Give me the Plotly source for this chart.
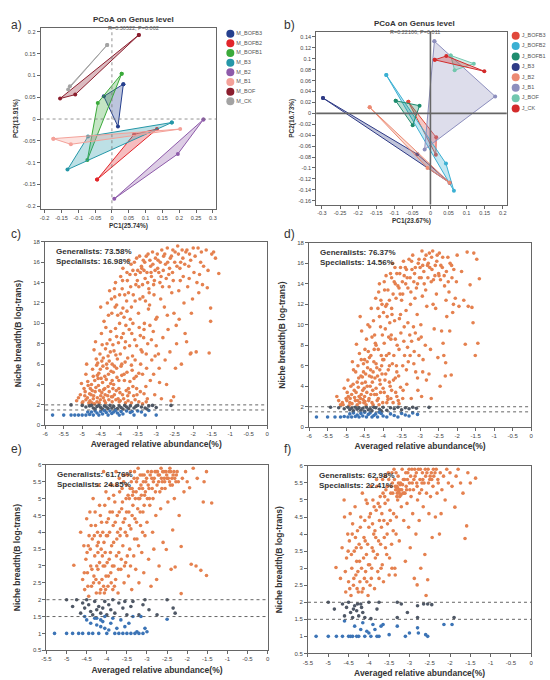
import plotly.graph_objects as go

FONT = "Liberation Sans, Arial, sans-serif"

# ---- PCoA panel a (M_ samples) ----
a_groups = ["M_BOFB3", "M_BOFB2", "M_BOFB1", "M_B3", "M_B2", "M_B1", "M_BOF", "M_CK"]
a_colors = ["#26408E", "#E2262B", "#3BAA3A", "#2597A8", "#8E5BAA", "#F4A199", "#8B1E2E", "#A3A3A3"]
a_pc1 = [[0.034, -0.024, 0.018], [-0.044, 0.066, 0.134], [0.029, -0.042, -0.073],
         [0.178, -0.132, -0.071], [0.272, 0.196, 0.007], [-0.174, -0.122, 0.203],
         [0.080, -0.154, -0.109], [-0.014, -0.125, -0.130]]
a_pc2 = [[0.080, 0.052, -0.017], [-0.139, -0.035, -0.023], [0.104, 0.037, -0.094],
         [-0.008, -0.116, -0.040], [-0.001, -0.080, -0.183], [-0.045, -0.058, -0.023],
         [0.193, 0.047, 0.056], [0.170, 0.075, 0.068]]
a_xticks = [-0.2, -0.15, -0.1, -0.05, 0, 0.05, 0.1, 0.15, 0.2, 0.25, 0.3]
a_yticks = [-0.2, -0.15, -0.1, -0.05, 0, 0.05, 0.1, 0.15, 0.2]

# ---- PCoA panel b (J_ samples) ----
b_groups = ["J_BOFB3", "J_BOFB2", "J_BOFB1", "J_B3", "J_B2", "J_B1", "J_BOF", "J_CK"]
b_colors = ["#E0483A", "#3BB0D3", "#1E8C6E", "#2F3B86", "#EC8A72", "#8D8FBE", "#72C7AE", "#D32B2B"]
b_pc1 = [[-0.061, 0.016, 0.015], [-0.122, 0.043, 0.065], [-0.096, -0.030, -0.049],
         [-0.297, -0.036, 0.053], [-0.168, -0.008, 0.053], [0.011, 0.179, -0.016],
         [0.056, 0.120, 0.067], [0.012, 0.044, 0.149]]
b_pc2 = [[0.021, -0.044, -0.076], [0.070, -0.092, -0.142], [0.023, 0.014, -0.022],
         [0.028, -0.075, -0.127], [0.011, -0.100, -0.127], [0.132, 0.031, -0.066],
         [0.106, 0.091, 0.079], [0.098, 0.105, 0.077]]
b_xticks = [-0.3, -0.25, -0.2, -0.15, -0.1, -0.05, 0, 0.05, 0.1, 0.15, 0.2]
b_yticks = [-0.16, -0.14, -0.12, -0.1, -0.08, -0.06, -0.04, -0.02, 0, 0.02, 0.04, 0.06, 0.08, 0.1, 0.12, 0.14]

# ---- niche breadth panels ----
cd_xticks = [-6, -5.5, -5, -4.5, -4, -3.5, -3, -2.5, -2, -1.5, -1, -0.5, 0]
cd_yticks = [0, 2, 4, 6, 8, 10, 12, 14, 16, 18]
ef_xticks = [-5.5, -5, -4.5, -4, -3.5, -3, -2.5, -2, -1.5, -1, -0.5, 0]
ef_yticks = [0.5, 1, 1.5, 2, 2.5, 3, 3.5, 4, 4.5, 5, 5.5, 6]
cutoffs = [2.0, 1.5]

c_labels = ["Generalists: 73.58%", "Specialists: 16.98%"]
d_labels = ["Generalists: 76.37%", "Specialists: 14.56%"]
e_labels = ["Generalists: 61.76%", "Specialists: 24.85%"]
f_labels = ["Generalists: 62.98%", "Specialists: 22.41%"]

c_gen = [
    (-5.15, 2.4), (-5.05, 3.0), (-5.0, 2.2), (-5.1, 2.7), (-5.02, 4.1),
    (-4.95, 3.6), (-4.9, 2.5), (-4.85, 4.3), (-4.8, 3.1), (-4.9, 5.0), (-4.82, 2.2), (-4.88, 6.0), (-4.93, 2.9),
    (-4.75, 4.0), (-4.7, 2.6), (-4.72, 5.5), (-4.65, 3.3), (-4.68, 7.4), (-4.6, 2.3), (-4.62, 6.5), (-4.7, 4.8),
    (-4.64, 8.2), (-4.78, 3.6), (-4.74, 2.2), (-4.66, 4.4), (-4.61, 5.9),
    (-4.55, 5.1), (-4.5, 2.9), (-4.52, 7.0), (-4.45, 4.2), (-4.48, 9.0), (-4.42, 3.5), (-4.58, 6.1), (-4.5, 11.6),
    (-4.4, 2.4), (-4.46, 7.9), (-4.56, 3.9), (-4.44, 5.8), (-4.41, 10.2), (-4.54, 2.2), (-4.47, 3.2), (-4.43, 6.6),
    (-4.57, 4.6),
    (-4.35, 4.5), (-4.3, 6.8), (-4.38, 3.0), (-4.25, 8.4), (-4.32, 12.0), (-4.28, 2.5), (-4.22, 5.3), (-4.36, 9.6),
    (-4.24, 7.2), (-4.3, 3.8), (-4.2, 11.0), (-4.34, 6.0), (-4.26, 13.2), (-4.37, 2.2), (-4.23, 4.1), (-4.29, 5.0),
    (-4.33, 8.0), (-4.21, 2.8),
    (-4.15, 4.0), (-4.1, 9.5), (-4.18, 2.8), (-4.05, 6.5), (-4.12, 12.6), (-4.08, 3.4), (-4.02, 8.1), (-4.16, 5.2),
    (-4.1, 14.0), (-4.04, 10.8), (-4.14, 7.3), (-4.0, 2.3), (-4.06, 4.7), (-4.19, 6.0), (-4.03, 2.6), (-4.11, 11.6),
    (-4.17, 3.6), (-4.07, 5.6),
    (-3.95, 5.8), (-3.9, 11.5), (-3.98, 3.2), (-3.85, 7.6), (-3.92, 13.4), (-3.88, 2.6), (-3.82, 9.8), (-3.96, 14.6),
    (-3.86, 4.4), (-3.8, 12.2), (-3.94, 8.6), (-3.84, 6.2), (-3.9, 15.4), (-3.99, 10.0), (-3.81, 3.4), (-3.93, 4.9),
    (-3.87, 10.6),
    (-3.75, 3.6), (-3.7, 10.4), (-3.78, 14.2), (-3.65, 5.4), (-3.72, 7.8), (-3.68, 15.8), (-3.62, 12.8), (-3.76, 2.4),
    (-3.66, 9.0), (-3.6, 4.6), (-3.74, 16.2), (-3.64, 6.8), (-3.79, 11.2), (-3.69, 13.6), (-3.61, 2.9), (-3.71, 4.3),
    (-3.55, 13.8), (-3.5, 15.2), (-3.58, 8.4), (-3.45, 16.6), (-3.52, 3.0), (-3.48, 11.0), (-3.42, 6.0), (-3.56, 14.8),
    (-3.46, 9.6), (-3.4, 15.6), (-3.54, 4.8), (-3.44, 12.4), (-3.59, 16.0), (-3.41, 7.4), (-3.51, 14.2),
    (-3.35, 16.2), (-3.3, 14.4), (-3.38, 7.2), (-3.25, 15.0), (-3.32, 10.0), (-3.28, 3.8), (-3.22, 16.8), (-3.36, 12.6),
    (-3.26, 5.6), (-3.2, 13.4), (-3.34, 8.6), (-3.24, 2.6), (-3.39, 15.4), (-3.21, 11.4), (-3.31, 16.0),
    (-3.15, 15.6), (-3.1, 17.0), (-3.18, 11.8), (-3.05, 14.2), (-3.12, 6.4), (-3.08, 9.2), (-3.02, 16.4), (-3.16, 4.4),
    (-3.06, 12.8), (-3.0, 7.8), (-3.14, 15.0), (-3.04, 3.0), (-3.19, 13.0), (-3.01, 10.4),
    (-2.95, 16.2), (-2.9, 14.0), (-2.98, 10.6), (-2.85, 17.2), (-2.92, 5.6), (-2.88, 12.4), (-2.82, 8.6), (-2.96, 15.4),
    (-2.86, 2.6), (-2.8, 16.6), (-2.94, 7.0), (-2.83, 13.6), (-2.91, 4.2),
    (-2.75, 15.8), (-2.7, 17.4), (-2.78, 11.6), (-2.65, 13.6), (-2.72, 4.0), (-2.68, 9.4), (-2.62, 16.4), (-2.76, 6.4),
    (-2.66, 14.8), (-2.6, 2.4), (-2.7, 10.8), (-2.63, 7.2),
    (-2.55, 17.2), (-2.5, 16.0), (-2.58, 13.0), (-2.45, 8.0), (-2.52, 11.0), (-2.48, 5.6), (-2.42, 17.6), (-2.56, 15.0),
    (-2.46, 9.8), (-2.4, 16.8), (-2.53, 2.8),
    (-2.35, 14.2), (-2.3, 17.2), (-2.38, 10.4), (-2.25, 12.0), (-2.32, 6.0), (-2.28, 16.4), (-2.22, 9.0), (-2.36, 15.4),
    (-2.2, 17.0),
    (-2.15, 13.6), (-2.1, 16.8), (-2.18, 8.2), (-2.05, 11.0), (-2.12, 15.6), (-2.08, 7.0), (-2.0, 17.4), (-2.02, 12.4),
    (-1.95, 16.6), (-1.9, 14.0), (-1.85, 13.0), (-1.8, 16.0), (-1.75, 13.8), (-1.92, 7.2), (-1.78, 17.0), (-1.72, 15.6),
    (-2.06, 7.1), (-1.65, 17.2), (-1.6, 15.2), (-1.53, 10.2), (-1.5, 16.8), (-1.53, 11.5), (-1.57, 7.1), (-1.4, 16.4),
    (-1.62, 13.5), (-1.31, 14.9), (-1.45, 17.0),
    (-4.98, 2.3), (-4.92, 3.3), (-4.86, 2.7), (-4.84, 3.9), (-4.79, 2.4), (-4.76, 3.0), (-4.73, 3.4), (-4.69, 2.9),
    (-4.67, 2.1), (-4.63, 3.7), (-4.59, 2.7), (-4.53, 3.4), (-4.51, 2.5), (-4.49, 4.6), (-4.43, 2.7), (-4.39, 3.6),
    (-4.31, 2.9), (-4.27, 3.3), (-4.19, 2.3), (-4.13, 3.0), (-4.09, 2.5), (-4.01, 3.6), (-3.97, 2.4), (-3.91, 3.0),
    (-3.83, 2.2), (-3.77, 2.9), (-3.73, 3.2), (-3.67, 2.2), (-3.63, 3.8), (-3.57, 2.5), (-3.53, 3.6), (-3.47, 2.3),
    (-3.43, 3.3), (-3.37, 2.1), (-3.33, 3.1), (-3.27, 2.3),
    (-4.59, 4.9), (-4.51, 5.5), (-4.47, 6.3), (-4.39, 4.8), (-4.37, 7.5), (-4.33, 5.6), (-4.27, 6.3), (-4.23, 9.2),
    (-4.19, 4.4), (-4.17, 7.9), (-4.13, 5.8), (-4.09, 6.9), (-4.07, 8.7), (-4.01, 4.4), (-3.97, 7.0), (-3.93, 6.0),
    (-3.89, 9.0), (-3.87, 5.0), (-3.83, 8.2), (-3.79, 5.2), (-3.77, 6.6), (-3.73, 9.4), (-3.67, 5.9), (-3.63, 10.0),
    (-3.57, 6.4), (-3.53, 7.8), (-3.47, 5.1), (-3.43, 8.8), (-3.37, 5.0), (-3.33, 9.4), (-3.27, 7.0), (-3.23, 8.0),
    (-3.17, 9.8), (-3.13, 8.4), (-3.07, 5.0), (-3.03, 6.8),
    (-4.29, 10.8), (-4.21, 12.4), (-4.13, 13.4), (-4.07, 11.8), (-3.99, 12.8), (-3.95, 11.0), (-3.91, 14.2),
    (-3.85, 12.8), (-3.79, 15.0), (-3.75, 13.0), (-3.71, 14.8), (-3.67, 11.6), (-3.63, 15.2), (-3.57, 12.2),
    (-3.53, 16.4), (-3.47, 13.6), (-3.43, 15.0), (-3.37, 13.8), (-3.33, 15.2), (-3.29, 12.2), (-3.27, 16.6),
    (-3.23, 14.0), (-3.17, 16.2), (-3.13, 14.6), (-3.09, 15.8), (-3.07, 13.8), (-3.03, 15.2), (-2.97, 16.8),
    (-2.93, 15.0), (-2.89, 16.0), (-2.87, 14.6), (-2.81, 15.2), (-2.77, 16.8), (-2.73, 14.4), (-2.69, 16.0),
    (-2.64, 15.4), (-2.59, 16.6), (-2.54, 14.2), (-2.49, 17.0), (-2.44, 15.6), (-2.39, 13.2), (-2.34, 16.0),
    (-2.27, 14.6), (-2.23, 15.8), (-2.17, 17.2), (-2.11, 14.4), (-2.07, 16.2), (-1.98, 15.0), (-1.87, 17.4),
    (-1.83, 14.8),
]
c_mid = [
    (-5.3, 2.0), (-5.0, 1.95), (-4.9, 1.8), (-4.8, 1.9), (-4.7, 1.7), (-4.6, 1.85), (-4.55, 1.95), (-4.5, 1.75),
    (-4.45, 1.6), (-4.4, 1.9), (-4.35, 1.8), (-4.3, 1.65), (-4.25, 1.95), (-4.2, 1.7), (-4.15, 1.85), (-4.1, 1.55),
    (-4.0, 1.9), (-3.95, 1.75), (-3.9, 1.6), (-3.85, 1.95), (-3.8, 1.8), (-3.7, 1.9), (-3.6, 1.7), (-3.5, 1.95),
    (-3.4, 1.8), (-3.3, 1.7), (-3.2, 1.9), (-3.1, 1.95), (-3.0, 1.75), (-2.6, 1.95), (-4.65, 1.6), (-4.05, 1.65),
    (-3.55, 1.85), (-3.25, 1.6), (-4.75, 1.95), (-3.75, 1.65),
]
c_spec = [
    (-5.8, 1.0), (-5.5, 1.0), (-5.3, 1.0), (-5.2, 1.0), (-5.1, 1.0), (-5.0, 1.0), (-4.9, 1.0), (-4.8, 1.05),
    (-4.75, 1.3), (-4.7, 1.0), (-4.65, 1.4), (-4.6, 1.2), (-4.55, 1.0), (-4.5, 1.35), (-4.45, 1.1), (-4.4, 1.45),
    (-4.35, 1.25), (-4.3, 1.0), (-4.25, 1.4), (-4.2, 1.15), (-4.15, 1.3), (-4.1, 1.45), (-4.05, 1.2), (-4.0, 1.0),
    (-3.95, 1.35), (-3.9, 1.1), (-3.8, 1.4), (-3.7, 1.25), (-3.6, 1.0), (-3.5, 1.4), (-3.4, 1.3), (-3.3, 1.0),
    (-3.0, 1.0), (-3.2, 1.45), (-4.85, 1.3), (-3.65, 1.35),
]

d_gen = [
    (-5.25, 3.0), (-5.1, 2.4), (-5.05, 3.8), (-5.15, 2.2), (-5.0, 2.8),
    (-4.95, 4.6), (-4.9, 2.4), (-4.85, 3.2), (-4.8, 5.6), (-4.92, 2.1), (-4.87, 4.0), (-4.83, 6.4), (-4.97, 3.4),
    (-4.75, 2.6), (-4.7, 4.4), (-4.72, 8.1), (-4.65, 3.0), (-4.68, 6.0), (-4.6, 5.0), (-4.62, 10.8), (-4.7, 2.2),
    (-4.64, 7.2), (-4.78, 3.6), (-4.66, 4.8), (-4.61, 2.8), (-4.74, 5.4),
    (-4.55, 3.6), (-4.5, 6.6), (-4.52, 2.4), (-4.45, 8.6), (-4.48, 4.4), (-4.42, 5.8), (-4.58, 9.4), (-4.5, 3.0),
    (-4.4, 7.4), (-4.46, 2.2), (-4.56, 4.9), (-4.44, 3.4), (-4.41, 10.0), (-4.53, 6.2), (-4.47, 5.2),
    (-4.35, 4.0), (-4.3, 8.8), (-4.38, 2.8), (-4.25, 6.4), (-4.32, 11.6), (-4.28, 3.6), (-4.22, 4.8), (-4.36, 9.8),
    (-4.24, 7.6), (-4.3, 2.4), (-4.2, 12.6), (-4.34, 5.6), (-4.26, 10.4), (-4.37, 6.8), (-4.23, 3.2), (-4.29, 4.4),
    (-4.21, 8.2),
    (-4.15, 5.0), (-4.1, 10.8), (-4.18, 3.2), (-4.05, 7.0), (-4.12, 13.2), (-4.08, 4.2), (-4.02, 9.0), (-4.16, 2.6),
    (-4.1, 14.0), (-4.04, 6.0), (-4.14, 11.6), (-4.0, 3.8), (-4.06, 12.4), (-4.19, 8.0), (-4.03, 5.2), (-4.11, 2.2),
    (-3.95, 4.6), (-3.9, 12.0), (-3.98, 6.6), (-3.85, 8.8), (-3.92, 14.8), (-3.88, 3.0), (-3.82, 10.2), (-3.96, 13.4),
    (-3.86, 5.6), (-3.8, 15.0), (-3.94, 9.6), (-3.84, 7.2), (-3.9, 2.4), (-3.99, 11.2), (-3.81, 4.0),
    (-3.75, 6.2), (-3.7, 14.2), (-3.78, 9.0), (-3.65, 12.6), (-3.72, 4.6), (-3.68, 15.6), (-3.62, 8.0), (-3.76, 11.0),
    (-3.66, 3.4), (-3.6, 13.8), (-3.74, 16.0), (-3.64, 6.0), (-3.79, 2.8), (-3.69, 10.4),
    (-3.55, 15.0), (-3.5, 12.4), (-3.58, 5.0), (-3.45, 16.2), (-3.52, 9.2), (-3.48, 14.2), (-3.42, 7.0), (-3.56, 10.6),
    (-3.46, 3.6), (-3.4, 15.6), (-3.54, 13.0), (-3.44, 8.4), (-3.59, 2.6),
    (-3.35, 14.6), (-3.3, 16.4), (-3.38, 11.4), (-3.25, 13.2), (-3.32, 6.4), (-3.28, 9.0), (-3.22, 15.4), (-3.36, 4.2),
    (-3.26, 12.0), (-3.2, 16.8), (-3.34, 7.8), (-3.24, 2.8), (-3.39, 14.0),
    (-3.15, 15.0), (-3.1, 13.6), (-3.18, 9.8), (-3.05, 16.0), (-3.12, 5.4), (-3.08, 11.0), (-3.02, 14.6), (-3.16, 7.4),
    (-3.06, 3.6), (-3.0, 15.6), (-3.14, 12.6), (-3.04, 8.6),
    (-2.95, 17.2), (-2.9, 15.2), (-2.98, 10.0), (-2.85, 13.4), (-2.92, 6.6), (-2.88, 16.4), (-2.82, 11.8), (-2.96, 3.0),
    (-2.86, 8.0), (-2.8, 15.8), (-2.94, 12.8), (-2.83, 4.6),
    (-2.75, 17.0), (-2.7, 14.2), (-2.78, 16.0), (-2.65, 12.0), (-2.72, 7.6), (-2.68, 15.4), (-2.62, 9.6), (-2.76, 5.2),
    (-2.66, 17.2), (-2.6, 14.8), (-2.7, 2.8),
    (-2.55, 16.2), (-2.5, 15.0), (-2.58, 11.6), (-2.45, 14.4), (-2.52, 6.8), (-2.48, 17.0), (-2.42, 9.4), (-2.56, 13.0),
    (-2.46, 4.0), (-2.4, 15.6),
    (-2.35, 14.8), (-2.3, 12.4), (-2.38, 8.2), (-2.25, 16.6), (-2.32, 5.0), (-2.28, 10.8), (-2.22, 13.2), (-2.36, 7.0),
    (-2.2, 9.4), (-2.31, 6.3),
    (-2.15, 15.8), (-2.1, 12.0), (-2.16, 5.1), (-2.05, 12.6), (-2.12, 11.2), (-2.0, 16.8), (-2.02, 14.2),
    (-1.95, 11.8), (-1.82, 12.4), (-1.88, 15.2), (-1.73, 17.1), (-1.78, 8.1), (-1.65, 13.9), (-1.6, 11.7),
    (-1.57, 10.2), (-1.51, 7.0), (-1.47, 16.4), (-1.44, 8.2), (-1.4, 14.5), (-1.55, 17.0), (-1.7, 11.8),
    (-5.2, 2.6), (-5.08, 2.2), (-4.98, 2.6), (-4.94, 3.0), (-4.89, 2.8), (-4.84, 2.3), (-4.81, 4.2), (-4.77, 2.9),
    (-4.73, 3.4), (-4.69, 2.6), (-4.67, 3.9), (-4.63, 2.4), (-4.59, 3.2), (-4.57, 4.3), (-4.54, 2.7), (-4.51, 3.8),
    (-4.49, 2.5), (-4.43, 4.0), (-4.39, 2.6), (-4.33, 3.2), (-4.31, 4.9), (-4.27, 2.2), (-4.19, 3.8), (-4.17, 5.8),
    (-4.13, 2.8), (-4.09, 4.6), (-4.07, 3.4), (-4.01, 2.4), (-3.97, 3.4), (-3.93, 5.2), (-3.87, 2.7), (-3.83, 4.4),
    (-3.77, 3.6), (-3.73, 2.4), (-3.67, 4.8), (-3.63, 3.0), (-3.57, 2.3), (-3.53, 3.9), (-3.47, 2.8),
    (-4.59, 6.6), (-4.53, 5.4), (-4.49, 7.6), (-4.43, 6.4), (-4.37, 5.0), (-4.33, 7.0), (-4.27, 5.4), (-4.23, 9.0),
    (-4.19, 6.2), (-4.13, 7.6), (-4.09, 5.6), (-4.07, 9.8), (-4.01, 6.6), (-3.97, 8.2), (-3.91, 7.0), (-3.89, 10.8),
    (-3.83, 6.0), (-3.79, 8.6), (-3.77, 11.6), (-3.71, 7.0), (-3.67, 8.6), (-3.63, 5.4), (-3.57, 7.6), (-3.53, 11.0),
    (-3.47, 6.0), (-3.43, 9.8), (-3.37, 5.6), (-3.33, 10.2), (-3.27, 7.0), (-3.23, 8.4), (-3.17, 6.2), (-3.13, 9.2),
    (-3.07, 4.8), (-3.03, 7.0), (-2.97, 8.8), (-2.93, 5.4),
    (-4.03, 12.0), (-3.97, 14.2), (-3.93, 11.8), (-3.87, 13.4), (-3.83, 12.4), (-3.77, 14.6), (-3.73, 13.0),
    (-3.67, 14.0), (-3.63, 15.0), (-3.57, 13.6), (-3.53, 15.6), (-3.47, 13.0), (-3.43, 14.8), (-3.37, 15.4),
    (-3.33, 13.6), (-3.27, 14.6), (-3.23, 16.2), (-3.17, 14.2), (-3.13, 15.6), (-3.07, 14.0), (-3.03, 16.4),
    (-2.97, 14.6), (-2.93, 15.8), (-2.89, 14.0), (-2.84, 16.8), (-2.79, 14.6), (-2.74, 15.6), (-2.69, 16.6),
    (-2.64, 14.4), (-2.59, 15.8), (-2.54, 16.8), (-2.49, 14.8), (-2.44, 15.8), (-2.39, 16.6), (-2.34, 13.8),
    (-2.29, 15.2), (-2.24, 14.2), (-2.19, 16.0), (-2.14, 14.6), (-2.09, 15.4),
]
d_mid = [
    (-5.42, 1.95), (-5.2, 1.9), (-5.05, 1.8), (-4.95, 1.95), (-4.9, 1.7), (-4.85, 1.85), (-4.8, 1.6), (-4.75, 1.95),
    (-4.7, 1.75), (-4.65, 1.9), (-4.6, 1.65), (-4.55, 1.85), (-4.5, 1.55), (-4.45, 1.95), (-4.4, 1.7), (-4.35, 1.8),
    (-4.3, 1.6), (-4.2, 1.9), (-4.1, 1.75), (-4.0, 1.95), (-3.9, 1.65), (-3.8, 1.9), (-3.7, 1.8), (-3.6, 1.95),
    (-3.5, 1.7), (-3.4, 1.9), (-3.3, 1.8), (-3.2, 1.95), (-3.1, 1.85), (-2.76, 1.94), (-4.25, 1.95), (-4.05, 1.6),
]
d_spec = [
    (-5.8, 1.0), (-5.5, 1.0), (-5.3, 1.0), (-5.15, 1.0), (-5.05, 1.05), (-4.95, 1.0), (-4.9, 1.3), (-4.85, 1.0),
    (-4.8, 1.4), (-4.75, 1.05), (-4.7, 1.2), (-4.65, 1.0), (-4.6, 1.35), (-4.55, 1.1), (-4.5, 1.45), (-4.45, 1.0),
    (-4.4, 1.25), (-4.35, 1.4), (-4.3, 1.0), (-4.25, 1.15), (-4.2, 1.3), (-4.15, 1.0), (-4.1, 1.45), (-4.0, 1.1),
    (-3.9, 1.0), (-3.8, 1.3), (-3.6, 1.0), (-3.5, 1.35), (-3.4, 1.2), (-3.3, 1.1), (-3.2, 1.4), (-3.07, 1.25),
    (-4.05, 1.35), (-3.7, 1.15),
]

e_gen = [
    (-4.82, 3.02), (-4.65, 4.0), (-4.57, 3.6), (-4.6, 2.6), (-4.55, 2.3), (-4.52, 3.2), (-4.5, 4.4), (-4.48, 2.8),
    (-4.46, 3.6), (-4.45, 2.1), (-4.42, 4.6), (-4.4, 3.0), (-4.38, 2.4), (-4.36, 3.8), (-4.34, 5.0), (-4.32, 2.7),
    (-4.3, 3.3), (-4.28, 4.2), (-4.26, 2.2), (-4.24, 3.6), (-4.23, 4.0), (-4.22, 2.9), (-4.2, 5.4), (-4.19, 2.5),
    (-4.18, 3.1), (-4.16, 4.5), (-4.15, 2.3), (-4.14, 3.5), (-4.12, 2.6), (-4.1, 4.0), (-4.09, 3.0), (-4.08, 5.8),
    (-4.06, 2.2), (-4.05, 4.8), (-4.04, 3.4), (-4.02, 2.7), (-4.0, 4.3), (-3.98, 3.9), (-3.97, 2.4), (-3.95, 5.0),
    (-3.94, 3.2), (-3.92, 4.6), (-3.9, 2.8), (-3.88, 3.6), (-3.87, 5.4), (-3.85, 2.3), (-3.84, 4.2), (-3.82, 3.0),
    (-3.8, 4.9), (-3.78, 2.6), (-3.77, 5.8), (-3.75, 3.8), (-3.74, 4.5), (-3.72, 2.2), (-3.7, 3.4), (-3.68, 5.2),
    (-3.66, 4.1), (-3.65, 2.9), (-3.63, 4.7), (-3.6, 3.6), (-3.58, 5.5), (-3.57, 2.5), (-3.55, 4.4), (-3.53, 3.1),
    (-3.52, 5.0), (-3.5, 3.9), (-3.48, 5.7), (-3.46, 2.7), (-3.45, 4.6), (-3.43, 3.5), (-3.42, 5.3), (-3.4, 4.1),
    (-3.38, 2.3), (-3.36, 5.1), (-3.35, 4.8), (-3.33, 3.3), (-3.32, 5.6), (-3.3, 4.4), (-3.28, 2.9), (-3.27, 5.2),
    (-3.25, 3.8), (-3.23, 4.7), (-3.22, 5.9), (-3.2, 2.5), (-3.18, 5.0), (-3.16, 4.2), (-3.15, 5.4), (-3.13, 3.4),
    (-3.12, 5.7), (-3.1, 4.6), (-3.08, 2.8), (-3.06, 5.1), (-3.05, 3.9), (-3.03, 5.5), (-3.0, 4.3), (-2.98, 5.8),
    (-2.96, 3.2), (-2.95, 5.3), (-2.93, 4.8), (-2.9, 2.4), (-2.88, 5.6), (-2.86, 4.0), (-2.85, 5.0), (-2.83, 3.5),
    (-2.8, 5.8), (-2.78, 4.5), (-2.76, 2.6), (-2.75, 5.4), (-2.72, 5.7), (-2.7, 3.0), (-2.68, 5.2), (-2.66, 4.7),
    (-2.65, 5.9), (-2.62, 5.5), (-2.6, 3.7), (-2.58, 5.8), (-2.55, 5.3), (-2.52, 3.49), (-2.5, 5.6), (-2.48, 4.9),
    (-2.45, 5.8), (-2.42, 5.4), (-2.4, 2.9), (-2.36, 4.07), (-2.35, 5.7), (-2.32, 5.0), (-2.3, 2.97), (-2.28, 5.5),
    (-2.25, 5.8), (-2.2, 4.5), (-2.15, 3.58), (-2.15, 2.18), (-2.12, 5.6), (-2.08, 5.2), (-2.04, 5.8), (-2.0, 5.5),
    (-1.94, 5.32), (-1.9, 3.05), (-1.85, 5.9), (-1.78, 3.0), (-1.75, 5.6), (-1.66, 2.87), (-1.6, 4.9), (-1.58, 5.5),
    (-1.52, 2.72), (-1.52, 5.8), (-1.39, 4.87),
    (-4.44, 3.9), (-4.37, 2.9), (-4.31, 3.9), (-4.27, 2.6), (-4.21, 3.7), (-4.13, 4.3), (-4.07, 3.7), (-4.03, 2.3),
    (-3.99, 3.1), (-3.93, 4.0), (-3.89, 2.5), (-3.83, 3.7), (-3.79, 4.3), (-3.71, 2.9), (-3.67, 3.9), (-3.61, 4.9),
    (-3.54, 4.0), (-3.47, 5.1), (-3.39, 5.5), (-3.34, 5.2), (-3.29, 5.0), (-3.24, 5.6), (-3.19, 5.3), (-3.14, 5.1),
    (-3.09, 5.5), (-3.04, 5.2), (-2.99, 5.0), (-2.92, 5.7), (-2.87, 5.3), (-2.82, 5.6), (-2.77, 5.8), (-2.71, 5.5),
    (-2.64, 5.6), (-2.57, 5.6), (-2.53, 5.8), (-2.47, 5.6), (-2.43, 5.9), (-2.38, 5.6), (-2.33, 5.8),
    (-4.56, 2.8), (-4.49, 3.4), (-4.47, 2.4), (-4.41, 3.5), (-4.39, 4.2), (-4.33, 2.5), (-4.29, 4.6), (-4.25, 3.0),
    (-4.22, 3.4), (-4.17, 2.2), (-4.16, 3.9), (-4.11, 3.3), (-4.08, 2.4), (-4.05, 3.0), (-4.01, 3.9), (-3.96, 2.7),
    (-3.96, 4.4), (-3.91, 3.4), (-3.86, 3.0), (-3.86, 4.6), (-3.81, 2.4), (-3.76, 3.3), (-3.73, 4.0), (-3.69, 4.6),
    (-3.64, 3.2), (-3.59, 4.3), (-3.56, 3.0), (-3.51, 4.6), (-3.49, 3.3), (-3.44, 4.2), (-3.41, 3.0), (-3.37, 4.5),
    (-3.31, 3.8), (-3.26, 4.3), (-3.21, 3.6), (-3.17, 4.6), (-3.11, 4.0), (-3.07, 4.8),
    (-4.18, 4.8), (-4.02, 5.2), (-3.91, 5.4), (-3.83, 5.1), (-3.76, 5.4), (-3.69, 5.6), (-3.62, 5.3), (-3.56, 5.7),
    (-3.51, 5.4), (-3.44, 5.0), (-3.41, 5.8), (-3.37, 5.3), (-3.31, 5.8), (-3.26, 5.5), (-3.21, 5.0), (-3.17, 5.7),
    (-3.11, 5.3), (-3.07, 5.7), (-3.01, 5.6), (-2.97, 5.4), (-2.94, 5.0), (-2.89, 5.8), (-2.84, 5.5), (-2.79, 5.2),
    (-2.74, 5.8), (-2.69, 5.7), (-2.63, 5.3), (-2.61, 5.8), (-2.56, 5.5), (-2.51, 5.7), (-2.44, 5.5), (-2.41, 5.8),
    (-2.37, 5.4), (-2.31, 5.6), (-2.27, 5.7), (-2.22, 5.5),
]
e_mid = [
    (-5.0, 2.0), (-4.85, 1.8), (-4.75, 2.0), (-4.65, 1.6), (-4.6, 1.9), (-4.55, 1.75), (-4.5, 2.0), (-4.45, 1.85),
    (-4.4, 1.65), (-4.35, 1.55), (-4.3, 1.95), (-4.25, 1.7), (-4.2, 1.8), (-4.15, 1.6), (-4.1, 1.75), (-4.05, 1.95),
    (-4.0, 1.55), (-3.95, 1.85), (-3.9, 1.7), (-3.85, 2.0), (-3.8, 1.6), (-3.7, 1.9), (-3.6, 1.75), (-3.55, 1.95),
    (-3.5, 1.55), (-3.4, 1.8), (-3.35, 1.95), (-3.1, 1.85), (-3.05, 2.0), (-2.95, 1.7), (-2.75, 1.55), (-2.5, 2.0),
    (-2.35, 1.75), (-2.3, 1.6), (-3.2, 1.55),
]
e_spec = [
    (-5.3, 1.0), (-5.0, 1.0), (-4.85, 1.0), (-4.7, 1.0), (-4.6, 1.0), (-4.55, 1.5), (-4.5, 1.4), (-4.45, 1.0),
    (-4.4, 1.3), (-4.35, 1.0), (-4.3, 1.45), (-4.25, 1.25), (-4.2, 1.0), (-4.15, 1.2), (-4.1, 1.35), (-4.05, 1.15),
    (-4.0, 1.0), (-3.95, 1.1), (-3.9, 1.3), (-3.85, 1.45), (-3.8, 1.0), (-3.75, 1.15), (-3.7, 1.0), (-3.65, 1.4),
    (-3.6, 1.0), (-3.55, 1.2), (-3.5, 1.0), (-3.45, 1.3), (-3.4, 1.0), (-3.35, 1.5), (-3.3, 1.0), (-3.25, 1.05),
    (-3.2, 1.0), (-3.1, 1.0), (-3.05, 1.15), (-3.0, 1.05), (-2.5, 1.42), (-3.15, 1.5), (-4.05, 1.5), (-4.15, 1.4),
    (-4.25, 1.45),
]

f_gen = [
    (-4.81, 3.02), (-4.61, 5.0), (-4.7, 2.7), (-4.66, 3.6), (-4.6, 4.5), (-4.57, 2.3), (-4.55, 3.3), (-4.52, 4.0),
    (-4.5, 2.6), (-4.48, 3.8), (-4.46, 4.6), (-4.44, 2.2), (-4.42, 3.0), (-4.4, 4.3), (-4.38, 2.5), (-4.36, 3.5),
    (-4.34, 4.8), (-4.32, 2.8), (-4.3, 3.2), (-4.28, 4.1), (-4.26, 2.3), (-4.24, 3.7), (-4.22, 2.6), (-4.2, 4.5),
    (-4.18, 3.0), (-4.16, 5.2), (-4.14, 2.4), (-4.12, 3.9), (-4.1, 4.4), (-4.08, 2.9), (-4.06, 3.4), (-4.04, 4.9),
    (-4.02, 2.2), (-4.0, 4.2), (-3.98, 3.1), (-3.96, 4.6), (-3.94, 2.7), (-3.92, 3.6), (-3.9, 5.0), (-3.88, 4.0),
    (-3.86, 2.4), (-3.84, 3.3), (-3.82, 4.7), (-3.8, 5.4), (-3.78, 2.9), (-3.76, 3.8), (-3.74, 4.4), (-3.72, 5.1),
    (-3.7, 3.0), (-3.68, 4.6), (-3.66, 5.6), (-3.64, 2.6), (-3.62, 3.9), (-3.6, 4.9), (-3.58, 5.3), (-3.56, 3.4),
    (-3.54, 4.3), (-3.52, 5.8), (-3.5, 2.8), (-3.48, 4.7), (-3.46, 5.2), (-3.44, 3.7), (-3.42, 5.5), (-3.4, 4.1),
    (-3.38, 5.9), (-3.36, 3.0), (-3.34, 5.3), (-3.32, 4.5), (-3.3, 5.2), (-3.29, 5.0), (-3.28, 5.7), (-3.26, 5.3),
    (-3.25, 3.8), (-3.24, 5.1), (-3.22, 5.5), (-3.2, 4.8), (-3.18, 5.9), (-3.16, 5.2), (-3.14, 4.4), (-3.12, 5.6),
    (-3.1, 3.2), (-3.08, 5.4), (-3.06, 4.9), (-3.04, 5.8), (-3.02, 4.2), (-3.0, 5.5), (-2.98, 3.6), (-2.96, 5.1),
    (-2.94, 5.9), (-2.92, 4.6), (-2.9, 5.3), (-2.88, 2.7), (-2.86, 5.7), (-2.84, 4.0), (-2.82, 5.5), (-2.81, 2.51),
    (-2.8, 5.0), (-2.78, 5.9), (-2.76, 4.4), (-2.74, 5.6), (-2.72, 3.0), (-2.7, 5.3), (-2.68, 5.8), (-2.66, 4.8),
    (-2.64, 5.5), (-2.62, 3.4), (-2.6, 5.7), (-2.59, 2.2), (-2.58, 5.2), (-2.55, 2.66), (-2.54, 5.9), (-2.52, 4.6),
    (-2.5, 5.6), (-2.48, 5.1), (-2.46, 5.8), (-2.44, 3.9), (-2.42, 5.4), (-2.4, 5.7), (-2.36, 4.5), (-2.34, 5.9),
    (-2.32, 5.2), (-2.3, 5.6), (-2.26, 4.0), (-2.24, 5.8), (-2.22, 4.6), (-2.2, 5.3), (-2.16, 5.7), (-2.12, 5.0),
    (-2.08, 5.9), (-2.04, 5.5), (-2.0, 5.8), (-1.95, 5.4), (-1.88, 4.79), (-1.85, 5.7), (-1.8, 5.9), (-1.74, 5.5),
    (-1.68, 5.2), (-1.63, 3.87), (-1.59, 4.24), (-1.56, 5.8), (-1.5, 5.5), (-1.37, 5.64),
    (-4.43, 3.4), (-4.33, 3.9), (-4.27, 2.9), (-4.19, 3.6), (-4.11, 2.7), (-4.03, 3.7), (-3.97, 2.5), (-3.91, 4.3),
    (-3.83, 3.9), (-3.77, 4.9), (-3.69, 4.2), (-3.61, 5.1), (-3.53, 5.0), (-3.45, 5.4), (-3.37, 5.6), (-3.31, 5.4),
    (-3.27, 5.25), (-3.23, 5.3), (-3.21, 5.15), (-3.17, 5.45), (-3.11, 5.2), (-3.05, 5.6), (-2.97, 5.7), (-2.89, 5.6),
    (-2.83, 5.8), (-2.75, 5.2), (-2.67, 5.6), (-2.57, 5.8), (-2.49, 5.7), (-2.41, 5.9),
    (-4.58, 2.9), (-4.51, 3.5), (-4.47, 2.4), (-4.41, 4.0), (-4.37, 2.7), (-4.31, 3.6), (-4.29, 2.4), (-4.23, 3.2),
    (-4.21, 4.2), (-4.17, 2.3), (-4.13, 3.3), (-4.09, 3.8), (-4.05, 2.6), (-4.01, 3.1), (-3.99, 4.5), (-3.93, 3.0),
    (-3.89, 3.5), (-3.85, 4.1), (-3.79, 3.4), (-3.75, 2.7), (-3.71, 3.7), (-3.67, 3.1), (-3.63, 4.4), (-3.59, 3.6),
    (-3.55, 4.0), (-3.49, 3.3), (-3.47, 4.4), (-3.43, 3.0), (-3.39, 4.6), (-3.35, 2.8), (-3.33, 4.0),
    (-4.07, 5.0), (-3.95, 5.4), (-3.87, 4.8), (-3.81, 5.6), (-3.73, 4.8), (-3.65, 5.2), (-3.59, 5.7), (-3.55, 5.4),
    (-3.51, 5.6), (-3.43, 5.8), (-3.41, 5.2), (-3.35, 5.4), (-3.33, 5.8), (-3.31, 5.1), (-3.29, 5.35), (-3.27, 5.5),
    (-3.25, 5.2), (-3.23, 5.45), (-3.19, 5.3), (-3.15, 5.6), (-3.13, 5.2), (-3.09, 5.8), (-3.07, 5.3), (-3.01, 5.9),
    (-2.99, 5.3), (-2.93, 5.5), (-2.87, 5.9), (-2.81, 5.4), (-2.73, 5.9), (-2.69, 5.5), (-2.61, 5.9), (-2.53, 5.5),
    (-2.45, 5.6), (-2.37, 5.8), (-2.29, 5.5),
]
f_mid = [
    (-5.0, 2.0), (-4.85, 1.8), (-4.65, 1.95), (-4.6, 1.6), (-4.55, 1.85), (-4.5, 2.0), (-4.45, 1.7), (-4.4, 1.55),
    (-4.35, 1.9), (-4.3, 1.75), (-4.25, 1.6), (-4.2, 1.95), (-4.15, 1.7), (-4.1, 1.55), (-4.0, 2.0), (-3.95, 1.52),
    (-3.8, 1.8), (-3.75, 2.0), (-3.3, 2.0), (-3.3, 1.55), (-3.2, 1.95), (-3.05, 1.7), (-2.8, 1.9), (-2.8, 1.55),
    (-2.55, 1.95), (-2.45, 1.93), (-2.65, 1.95), (-1.9, 1.55), (-4.38, 1.8), (-4.28, 1.95), (-4.18, 1.85),
]
f_spec = [
    (-5.3, 1.0), (-5.0, 1.0), (-4.8, 1.0), (-4.65, 1.0), (-4.6, 1.45), (-4.5, 1.0), (-4.45, 1.0), (-4.4, 1.0),
    (-4.35, 1.3), (-4.3, 1.0), (-4.25, 1.0), (-4.2, 1.2), (-4.15, 1.4), (-4.1, 1.0), (-4.05, 1.15), (-4.0, 1.1),
    (-3.95, 1.0), (-3.9, 1.35), (-3.85, 1.2), (-3.8, 1.0), (-3.75, 1.0), (-3.7, 1.3), (-3.65, 1.35), (-3.5, 1.05),
    (-3.3, 1.3), (-3.1, 1.0), (-3.0, 1.1), (-2.8, 1.25), (-2.78, 1.1), (-2.6, 1.05), (-2.55, 1.0), (-2.15, 1.35),
    (-1.95, 1.35),
]

GEN_COLOR = "#E5814F"
MID_COLOR = "#4F5866"
SPEC_COLOR = "#3C74B6"
TXT = "#333333"


def rgba(hexcol, a):
    h = hexcol.lstrip("#")
    return "rgba(%d,%d,%d,%.2f)" % (int(h[0:2], 16), int(h[2:4], 16), int(h[4:6], 16), a)


def fmt(v):
    return "%g" % v


def add_pcoa(fig, xs, ys, colors, n):
    for px, py, col in zip(xs, ys, colors):
        fig.add_trace(go.Scatter(
            x=px + [px[0]], y=py + [py[0]],
            mode="lines+markers", fill="toself", fillcolor=rgba(col, 0.3),
            line=dict(color=col, width=1), marker=dict(size=4, color=col),
            showlegend=False, hoverinfo="skip",
            xaxis="x" + n, yaxis="y" + n))


def add_legend(fig, names, colors, n):
    fig.add_trace(go.Scatter(
        x=[0.15] * len(names), y=list(range(len(names))),
        mode="markers+text", text=names, textposition="middle right",
        textfont=dict(size=5.5, color="#555555", family=FONT),
        marker=dict(size=8, color=colors), showlegend=False,
        xaxis="x" + n, yaxis="y" + n))


def add_niche(fig, gen, mid, spec, n):
    for pts, col in [(gen, GEN_COLOR), (mid, MID_COLOR), (spec, SPEC_COLOR)]:
        fig.add_trace(go.Scatter(
            x=[p[0] for p in pts], y=[p[1] for p in pts], mode="markers",
            marker=dict(size=3.6, color=col), showlegend=False,
            xaxis="x" + n, yaxis="y" + n))


def axis(domain, rng, ticks, title, tsize, anchor, ticksize=6, standoff=3, linecol="#666666"):
    return dict(domain=domain, range=rng, tickvals=ticks, ticktext=[fmt(t) for t in ticks],
                showgrid=False, zeroline=False, showline=True, mirror=True,
                linecolor=linecol, linewidth=1, ticks="outside", ticklen=3,
                tickcolor=linecol, tickfont=dict(size=ticksize, color="#444444", family=FONT),
                title=dict(text=title, font=dict(size=tsize, color=TXT, family=FONT, weight="bold"),
                           standoff=standoff),
                anchor=anchor)


def main():
    fig = go.Figure()

    add_pcoa(fig, a_pc1, a_pc2, a_colors, "")
    add_pcoa(fig, b_pc1, b_pc2, b_colors, "2")
    add_niche(fig, c_gen, c_mid, c_spec, "3")
    add_niche(fig, d_gen, d_mid, d_spec, "4")
    add_niche(fig, e_gen, e_mid, e_spec, "5")
    add_niche(fig, f_gen, f_mid, f_spec, "6")
    add_legend(fig, a_groups, a_colors, "7")
    add_legend(fig, b_groups, b_colors, "8")

    xt = "Averaged relative abundance(%)"
    yt = "Niche breadth(B log-trans)"
    layout = dict(
        width=550, height=680, margin=dict(l=0, r=0, t=0, b=0),
        paper_bgcolor="white", plot_bgcolor="white",
        font=dict(family=FONT, color=TXT),
        xaxis=axis([0.0655, 0.389], [-0.212, 0.31], a_xticks, "PC1(25.74%)", 6.5, "y", 5.5),
        yaxis=axis([0.694, 0.963], [-0.207, 0.209], a_yticks, "PC2(13.91%)", 6.5, "x", 5.5),
        xaxis2=axis([0.573, 0.924], [-0.316, 0.211], b_xticks, "PC1(23.67%)", 6.5, "y2", 5.5),
        yaxis2=axis([0.701, 0.957], [-0.167, 0.149], b_yticks, "PC2(16.73%)", 6.5, "x2", 5.5),
        xaxis3=axis([0.074, 0.483], [-6, 0], cd_xticks, xt, 8.5, "y3", 6, 4),
        yaxis3=axis([0.3735, 0.6456], [0, 18], cd_yticks, yt, 8.5, "x3", 6, 10),
        xaxis4=axis([0.560, 0.969], [-6, 0], cd_xticks, xt, 8.5, "y4", 6, 4),
        yaxis4=axis([0.3706, 0.6441], [0, 18], cd_yticks, yt, 8.5, "x4", 6, 10),
        xaxis5=axis([0.0764, 0.4836], [-5.5, 0], ef_xticks, xt, 8.5, "y5", 6, 5),
        yaxis5=axis([0.0397, 0.3147], [0.5, 6], ef_yticks, yt, 8.5, "x5", 6, 10),
        xaxis6=axis([0.558, 0.969], [-5.5, 0], ef_xticks, xt, 8.5, "y6", 6, 5),
        yaxis6=axis([0.035, 0.3132], [0.5, 6], ef_yticks, yt, 8.5, "x6", 6, 10),
        xaxis7=dict(domain=[0.40, 0.50], range=[0, 1], visible=False, anchor="y7"),
        yaxis7=dict(domain=[0.847, 0.9616], range=[7.5, -0.5], visible=False, anchor="x7"),
        xaxis8=dict(domain=[0.93, 1.0], range=[0, 1], visible=False, anchor="y8"),
        yaxis8=dict(domain=[0.8357, 0.9592], range=[7.5, -0.5], visible=False, anchor="x8"),
    )
    fig.update_layout(**layout)

    # zero lines of the PCoA plots
    fig.add_shape(type="line", xref="x", yref="y domain", x0=0, x1=0, y0=0, y1=1,
                  line=dict(color="#777777", width=0.8, dash="dot"))
    fig.add_shape(type="line", xref="x domain", yref="y", x0=0, x1=1, y0=0, y1=0,
                  line=dict(color="#777777", width=0.8, dash="dot"))
    fig.add_shape(type="line", xref="x2", yref="y2 domain", x0=0, x1=0, y0=0, y1=1,
                  line=dict(color="#666666", width=1.6))
    fig.add_shape(type="line", xref="x2 domain", yref="y2", x0=0, x1=1, y0=0, y1=0,
                  line=dict(color="#666666", width=1.6))

    # generalist / specialist cutoffs
    for n in ["3", "4", "5", "6"]:
        for c in cutoffs:
            fig.add_shape(type="line", xref="x%s domain" % n, yref="y" + n, x0=0, x1=1, y0=c, y1=c,
                          line=dict(color="#555555", width=0.9, dash="dot"))

    for n, lab in zip(["3", "4", "5", "6"], [c_labels, d_labels, e_labels, f_labels]):
        fig.add_annotation(xref="x%s domain" % n, yref="y%s domain" % n, x=0.04, y=0.985,
                           xanchor="left", yanchor="top", align="left", showarrow=False,
                           text="<br>".join(lab),
                           font=dict(size=8, color=TXT, family=FONT, weight="bold"))

    # titles
    for x, y in [(0.236, 0.985), (0.755, 0.979)]:
        fig.add_annotation(xref="paper", yref="paper", x=x, y=y, text="PCoA on Genus level",
                           xanchor="center", showarrow=False,
                           font=dict(size=8, color=TXT, family=FONT, weight="bold"))
    fig.add_annotation(xref="paper", yref="paper", x=0.236, y=0.971, text="R=0.30522, P=0.002",
                       xanchor="center", showarrow=False, font=dict(size=5.5, color="#555555", family=FONT))
    fig.add_annotation(xref="paper", yref="paper", x=0.755, y=0.965, text="R=0.22106, P=0.011",
                       xanchor="center", showarrow=False, font=dict(size=5.5, color="#555555", family=FONT))

    for x, y, s in [(0.008, 0.980, "a)"), (0.51, 0.980, "b)"), (0.008, 0.658, "c)"),
                    (0.51, 0.658, "d)"), (0.008, 0.338, "e)"), (0.51, 0.338, "f)")]:
        fig.add_annotation(xref="paper", yref="paper", x=x, y=y, text=s, xanchor="left",
                           showarrow=False, font=dict(size=12, color=TXT, family=FONT))

    fig.write_html("out.html", config={"displayModeBar": False},
                   post_script="document.body.style.margin='0';")


if __name__ == "__main__":
    main()
